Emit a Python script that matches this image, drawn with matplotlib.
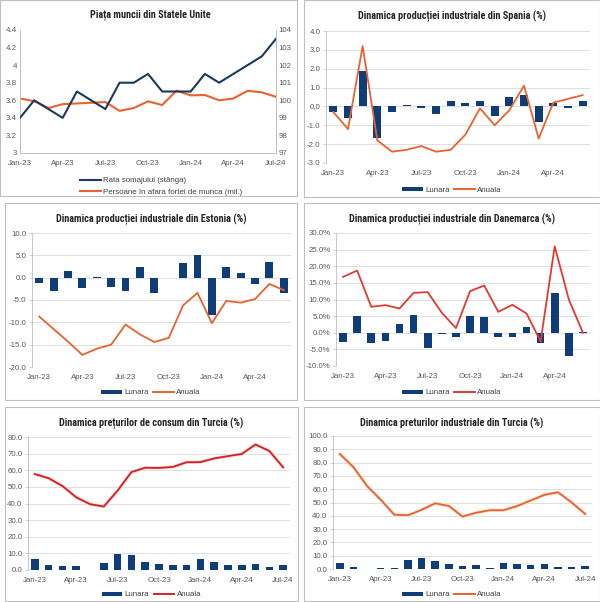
import matplotlib
matplotlib.use('Agg')
import matplotlib.pyplot as plt
from matplotlib.patches import Rectangle, Patch
from matplotlib.lines import Line2D
import matplotlib.patheffects as pe

# ---------------- data ----------------
tick_labels = ['Jan-23', 'Apr-23', 'Jul-23', 'Oct-23', 'Jan-24', 'Apr-24', 'Jul-24']

us_unemp = [3.4, 3.6, 3.5, 3.4, 3.7, 3.6, 3.5, 3.8, 3.8, 3.9, 3.7, 3.7, 3.7, 3.9, 3.8, 3.9, 4.0, 4.1, 4.3]
us_notlf = [100.1, 99.95, 99.56, 99.78, 99.82, 99.86, 99.9, 99.4, 99.56, 99.94, 99.73, 100.55,
            100.28, 100.3, 100.0, 100.1, 100.54, 100.45, 100.2]

es_monthly = [-0.3, -0.6, 1.9, -1.7, -0.3, 0.05, -0.1, -0.4, 0.3, 0.2, 0.3, -0.5, 0.5, 0.6, -0.8, 0.2, -0.1, 0.3]
es_annual = [-0.3, -1.2, 3.2, -1.8, -2.4, -2.3, -2.1, -2.4, -2.3, -1.5, -0.1, -1.0, -0.2, 1.1, -1.7, 0.2, 0.4, 0.6]

ee_monthly = [-1.3, -3.0, 1.5, -2.4, 0.1, -2.0, -3.0, 2.5, -3.5, 0.0, 3.2, 5.1, -8.3, 2.3, 1.1, -1.5, 3.6, -3.5]
ee_annual = [-8.7, -11.5, -14.3, -17.3, -15.9, -15.0, -10.5, -12.7, -14.4, -13.5, -6.2, -3.4,
             -10.2, -5.2, -5.6, -4.8, -1.4, -2.8]

dk_monthly = [-2.8, 5.0, -3.2, -2.4, 2.7, 5.3, -4.5, -0.3, -1.2, 4.9, 4.8, -1.3, -1.2, 1.7, -3.0, 12.0, -7.0, 0.1]
dk_annual = [16.8, 18.7, 7.8, 8.3, 7.3, 12.0, 12.2, 6.0, 1.4, 12.5, 14.2, 6.3, 8.4, 5.8, -2.6, 26.0, 10.0, 0.0]

tr_cpi_monthly = [6.65, 3.15, 2.29, 2.39, 0.04, 3.92, 9.49, 9.09, 4.75, 3.43, 3.28, 2.93, 6.70, 4.53, 3.16, 3.18, 3.37, 1.64, 3.23]
tr_cpi_annual = [57.7, 55.2, 50.5, 43.7, 39.6, 38.2, 47.8, 58.9, 61.5, 61.4, 62.0, 64.8, 64.9, 67.1, 68.5, 69.8, 75.5, 71.6, 61.8]

tr_ppi_monthly = [4.15, 1.56, 0.29, 0.71, 0.65, 6.50, 8.23, 5.89, 3.40, 1.94, 2.81, 1.12, 4.14, 3.74, 3.29, 3.45, 1.71, 1.38, 1.94]
tr_ppi_annual = [86.5, 76.6, 62.4, 52.1, 40.8, 40.4, 44.5, 49.4, 47.4, 39.4, 42.3, 44.2, 44.2, 47.3, 51.5, 55.7, 57.7, 50.1, 41.4]

# ---------------- style ----------------
W, H = 600, 602
TITLE_FONT = ['Roboto Condensed', 'DejaVu Sans Condensed', 'Liberation Sans', 'DejaVu Sans']
TXT_FONT = ['Liberation Sans', 'DejaVu Sans']
TICK_C = '#595959'
GRID_C = '#D9D9D9'
BAR_C = '#0E3D7A'
NAVY = '#1B3A5C'
ORANGE = '#E8632E'
RED = '#E03A33'
DRED = '#D91E22'
FS = 5.7

fig = plt.figure(figsize=(W / 100, H / 100), dpi=100)


def fx(x):
    return x / W


def fy(y):
    return 1 - y / H


def ax_px(x0, y0, x1, y1):
    return fig.add_axes([x0 / W, 1 - y1 / H, (x1 - x0) / W, (y1 - y0) / H])


def box(x0, y0, x1, y1):
    fig.patches.append(Rectangle((fx(x0), fy(y1)), (x1 - x0) / W, (y1 - y0) / H,
                                 transform=fig.transFigure, fill=False,
                                 edgecolor='#BFBFBF', linewidth=0.8))


def title(x, y, s):
    fig.text(fx(x), fy(y), s, ha='center', va='center', fontsize=7.4,
             fontweight='bold', family=TITLE_FONT, color='#262626')


def style_ticks(ax):
    for lab in ax.get_xticklabels() + ax.get_yticklabels():
        lab.set_family(TXT_FONT)
        lab.set_fontsize(FS)
        lab.set_color(TICK_C)


def bar_panel(bx, ax_box, ttl, monthly, annual, line_c, ylim, yticks, yfmt, n_lab, leg_y, glow=None):
    x0, y0, x1, y1 = bx
    box(x0, y0, x1, y1)
    title((x0 + x1) / 2, y0 + 16, ttl)
    ax = ax_px(*ax_box)
    n = len(monthly)
    xs = list(range(n))
    ax.bar(xs, monthly, width=0.55, color=BAR_C, zorder=2)
    kw = {}
    if glow:
        kw['path_effects'] = [pe.Stroke(linewidth=2.4, foreground=glow), pe.Normal()]
    ax.plot(xs, annual, color=line_c, lw=1.3, zorder=3, **kw)
    ax.set_xlim(-0.5, n - 0.5)
    ax.set_ylim(*ylim)
    ax.set_yticks(yticks)
    ax.set_yticklabels([yfmt(v) for v in yticks])
    ax.set_xticks(list(range(0, n, 3))[:n_lab])
    ax.set_xticklabels(tick_labels[:n_lab])
    ax.grid(axis='y', color=GRID_C, lw=0.6, zorder=0)
    ax.set_axisbelow(True)
    for s in ['top', 'right', 'bottom']:
        ax.spines[s].set_visible(False)
    ax.spines['left'].set_color('#BFBFBF')
    ax.spines['left'].set_linewidth(0.6)
    ax.tick_params(axis='y', length=2, width=0.5, color='#BFBFBF', pad=2)
    ax.tick_params(axis='x', length=0, pad=5)
    style_ticks(ax)
    handles = [Patch(facecolor=BAR_C, edgecolor='none', label='Lunara'),
               Line2D([], [], color=line_c, lw=1.4, label='Anuala')]
    fig.legend(handles=handles, loc='center', bbox_to_anchor=(fx((x0 + x1) / 2), fy(leg_y)),
               ncol=2, frameon=False, prop={'family': TXT_FONT, 'size': FS},
               handlelength=2.6, handleheight=0.45, handletextpad=0.3, columnspacing=0.6,
               labelcolor='#404040')
    return ax


# ---------------- panel 1: US labour market ----------------
box(0, 0, 297, 196)
title(150, 15, 'Piața muncii din Statele Unite')
ax1 = ax_px(20, 30, 276, 153)
x19 = list(range(len(us_unemp)))
ax1.plot(x19, us_unemp, color=NAVY, lw=1.5, zorder=3)
ax1.set_xlim(0, len(us_unemp) - 1)
ax1.set_ylim(3, 4.4)
yt1 = [3.0, 3.2, 3.4, 3.6, 3.8, 4.0, 4.2, 4.4]
ax1.set_yticks(yt1)
ax1.set_yticklabels(['3', '3.2', '3.4', '3.6', '3.8', '4', '4.2', '4.4'])
ax1.set_xticks(list(range(0, 19, 3)))
ax1.set_xticklabels(tick_labels)
ax1.tick_params(length=0, pad=2)
ax1.tick_params(axis='x', pad=5)
for s in ['top']:
    ax1.spines[s].set_visible(False)
for s in ['left', 'right', 'bottom']:
    ax1.spines[s].set_color('#BFBFBF')
    ax1.spines[s].set_linewidth(0.6)
style_ticks(ax1)
ax1r = ax1.twinx()
ax1r.plot(x19, us_notlf, color=ORANGE, lw=1.5, zorder=2)
ax1r.set_ylim(97, 104)
ax1r.set_yticks(list(range(97, 105)))
ax1r.set_yticklabels([str(v) for v in range(97, 105)])
ax1r.tick_params(length=0, pad=2)
ax1r.spines['top'].set_visible(False)
for s in ['left', 'right', 'bottom']:
    ax1r.spines[s].set_color('#BFBFBF')
    ax1r.spines[s].set_linewidth(0.6)
style_ticks(ax1r)
ax1.set_zorder(ax1r.get_zorder() + 1)
ax1.patch.set_visible(False)
h1 = [Line2D([], [], color=NAVY, lw=1.5, label='Rata somajului (stânga)'),
      Line2D([], [], color=ORANGE, lw=1.5, label='Persoane în afara fortei de munca (mil.)')]
fig.legend(handles=h1, loc='upper left', bbox_to_anchor=(fx(76), fy(173)), ncol=1, frameon=False,
           prop={'family': TXT_FONT, 'size': FS}, handlelength=2.6, handletextpad=0.3,
           labelspacing=0.5, labelcolor='#404040', borderpad=0)

# ---------------- panel 2: Spain ----------------
bar_panel((304, 0, 600, 197), (326, 31, 590, 163), 'Dinamica producției industriale din Spania (%)',
          es_monthly, es_annual, ORANGE, (-3, 4), [-3, -2, -1, 0, 1, 2, 3, 4],
          lambda v: f'{v:.1f}', 6, 190)

# ---------------- panel 3: Estonia ----------------
bar_panel((5, 203, 297, 400), (32, 233, 291, 367), 'Dinamica producției industriale din Estonia (%)',
          ee_monthly, ee_annual, ORANGE, (-20, 10), [-20, -15, -10, -5, 0, 5, 10],
          lambda v: f'{v:.1f}', 6, 393)

# ---------------- panel 4: Denmark ----------------
bar_panel((304, 203, 600, 400), (336, 233, 590, 366), 'Dinamica producției industriale din Danemarca (%)',
          dk_monthly, dk_annual, RED, (-10, 30), [-10, -5, 0, 5, 10, 15, 20, 25, 30],
          lambda v: f'{v:.1f}%', 6, 393)

# ---------------- panel 5: Turkey CPI ----------------
bar_panel((5, 407, 298, 601), (28, 437, 290, 570), 'Dinamica prețurilor de consum din Turcia (%)',
          tr_cpi_monthly, tr_cpi_annual, DRED, (0, 80), [0, 10, 20, 30, 40, 50, 60, 70, 80],
          lambda v: f'{v:.1f}', 7, 595, glow='#F8D7D3')

# ---------------- panel 6: Turkey PPI ----------------
bar_panel((304, 407, 600, 601), (333, 436, 592, 569), 'Dinamica preturilor industriale din Turcia (%)',
          tr_ppi_monthly, tr_ppi_annual, ORANGE, (0, 100), [0, 10, 20, 30, 40, 50, 60, 70, 80, 90, 100],
          lambda v: f'{v:.1f}', 7, 595, glow='#FBE0CF')

fig.savefig('out.png', dpi=100, facecolor='white')
